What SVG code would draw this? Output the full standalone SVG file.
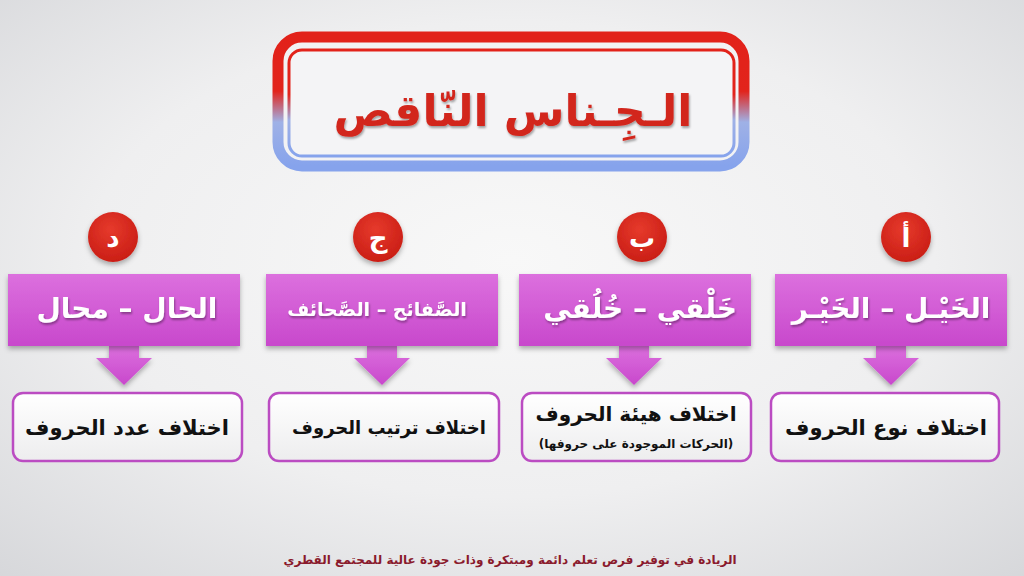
<svg xmlns="http://www.w3.org/2000/svg" width="1024" height="576" viewBox="0 0 1024 576">
<defs>
<radialGradient id="bg" cx="0.5" cy="0.45" r="0.75">
<stop offset="0" stop-color="#f8f8f8"/>
<stop offset="0.55" stop-color="#efeff0"/>
<stop offset="1" stop-color="#d6d7da"/>
</radialGradient>
<linearGradient id="frame" x1="0" y1="0" x2="0" y2="1">
<stop offset="0" stop-color="#e2221a"/>
<stop offset="0.42" stop-color="#e2241c"/>
<stop offset="0.66" stop-color="#9fb1e6"/>
<stop offset="1" stop-color="#86a3ec"/>
</linearGradient>
<linearGradient id="mag" x1="0" y1="0" x2="0" y2="1">
<stop offset="0" stop-color="#dc70de"/>
<stop offset="1" stop-color="#c848cc"/>
</linearGradient>
<linearGradient id="wbox" x1="0" y1="0" x2="0" y2="1">
<stop offset="0" stop-color="#ffffff"/>
<stop offset="1" stop-color="#ededee"/>
</linearGradient>
<radialGradient id="red" cx="0.45" cy="0.35" r="0.7">
<stop offset="0" stop-color="#e63a2c"/>
<stop offset="1" stop-color="#c81c14"/>
</radialGradient>
<filter id="sh" x="-10%" y="-10%" width="120%" height="140%">
<feDropShadow dx="0" dy="3" stdDeviation="2.5" flood-color="#000" flood-opacity="0.3"/>
</filter>
<filter id="tsh" x="-5%" y="-20%" width="110%" height="150%">
<feDropShadow dx="1" dy="2" stdDeviation="1" flood-color="#000" flood-opacity="0.35"/>
</filter>
<path id="arrow" d="M-15,0 L15,0 L15,13 L28,13 L0,40 L-28,13 L-15,13 Z"/>
</defs>
<style>
.ar{font-family:"DejaVu Sans","Noto Sans",sans-serif;text-anchor:middle;direction:rtl}
.mbox{fill:url(#mag)}
.wb{fill:url(#wbox);stroke:#bb4cc2;stroke-width:2.5}
.wt{fill:#ffffff;font-weight:bold;font-size:28px}
.bt{fill:#111111;font-weight:bold;font-size:21px}
.ct{fill:#ffffff;font-weight:bold;font-size:26px}
.circ{fill:url(#red)}
</style>
<rect x="0" y="0" width="1024" height="576" fill="url(#bg)"/>

<g id="title">
<rect x="278" y="37" width="466" height="129" rx="24" fill="#f2f2f4" stroke="url(#frame)" stroke-width="11"/>
<rect x="289" y="50" width="445" height="106" rx="13" fill="#f4f4f6" stroke="url(#frame)" stroke-width="3"/>
<text class="ar" x="513" y="126" font-size="44" font-weight="bold" fill="#d2261e" filter="url(#tsh)">الـجِـناس النّاقص</text>
</g>

<g id="connectors">
<use href="#arrow" x="124" y="345" class="mbox" filter="url(#sh)"/>
<use href="#arrow" x="382" y="345" class="mbox" filter="url(#sh)"/>
<use href="#arrow" x="634" y="345" class="mbox" filter="url(#sh)"/>
<use href="#arrow" x="891" y="345" class="mbox" filter="url(#sh)"/>
</g>

<g id="node-a">
<circle class="circ" cx="906" cy="237" r="25" filter="url(#sh)"/>
<text class="ar ct" x="906" y="247">أ</text>
<rect class="mbox" x="775" y="274" width="232" height="72" filter="url(#sh)"/>
<text class="ar wt" x="891" y="318" filter="url(#tsh)">الخَيْـل – الخَيْـر</text>
<rect class="wb" x="771" y="393" width="228" height="68" rx="10"/>
<text class="ar bt" x="886" y="435">اختلاف نوع الحروف</text>
</g>

<g id="node-b">
<circle class="circ" cx="642" cy="237" r="25" filter="url(#sh)"/>
<text class="ar ct" x="642" y="247">ب</text>
<rect class="mbox" x="519" y="274" width="232" height="72" filter="url(#sh)"/>
<text class="ar wt" x="640" y="318" filter="url(#tsh)">خَلْقي – خُلُقي</text>
<rect class="wb" x="522" y="393" width="229" height="68" rx="10"/>
<text class="ar" x="636" y="421" font-size="20" font-weight="bold" fill="#111">اختلاف هيئة الحروف</text>
<text class="ar" x="636" y="448" font-size="12" font-weight="bold" fill="#111">(الحركات الموجودة على حروفها)</text>
</g>

<g id="node-c">
<circle class="circ" cx="378" cy="237" r="25" filter="url(#sh)"/>
<text class="ar ct" x="378" y="247">ج</text>
<rect class="mbox" x="266" y="274" width="232" height="72" filter="url(#sh)"/>
<text class="ar" x="377" y="316" font-size="19" font-weight="bold" fill="#fff" filter="url(#tsh)">الصَّفائح – الصَّحائف</text>
<rect class="wb" x="269" y="393" width="230" height="68" rx="10"/>
<text class="ar" x="389" y="434" font-size="18" font-weight="bold" fill="#111">اختلاف ترتيب الحروف</text>
</g>

<g id="node-d">
<circle class="circ" cx="113" cy="237" r="25" filter="url(#sh)"/>
<text class="ar ct" x="113" y="247">د</text>
<rect class="mbox" x="8" y="274" width="232" height="72" filter="url(#sh)"/>
<text class="ar wt" x="127" y="318" filter="url(#tsh)">الحال – محال</text>
<rect class="wb" x="13" y="393" width="229" height="68" rx="10"/>
<text class="ar bt" x="127" y="435">اختلاف عدد الحروف</text>
</g>

<g id="footer">
<text class="ar" x="510" y="564" font-size="12" font-weight="bold" fill="#8a1a2c">الريادة في توفير فرص تعلم دائمة ومبتكرة وذات جودة عالية للمجتمع القطري</text>
</g>
</svg>
